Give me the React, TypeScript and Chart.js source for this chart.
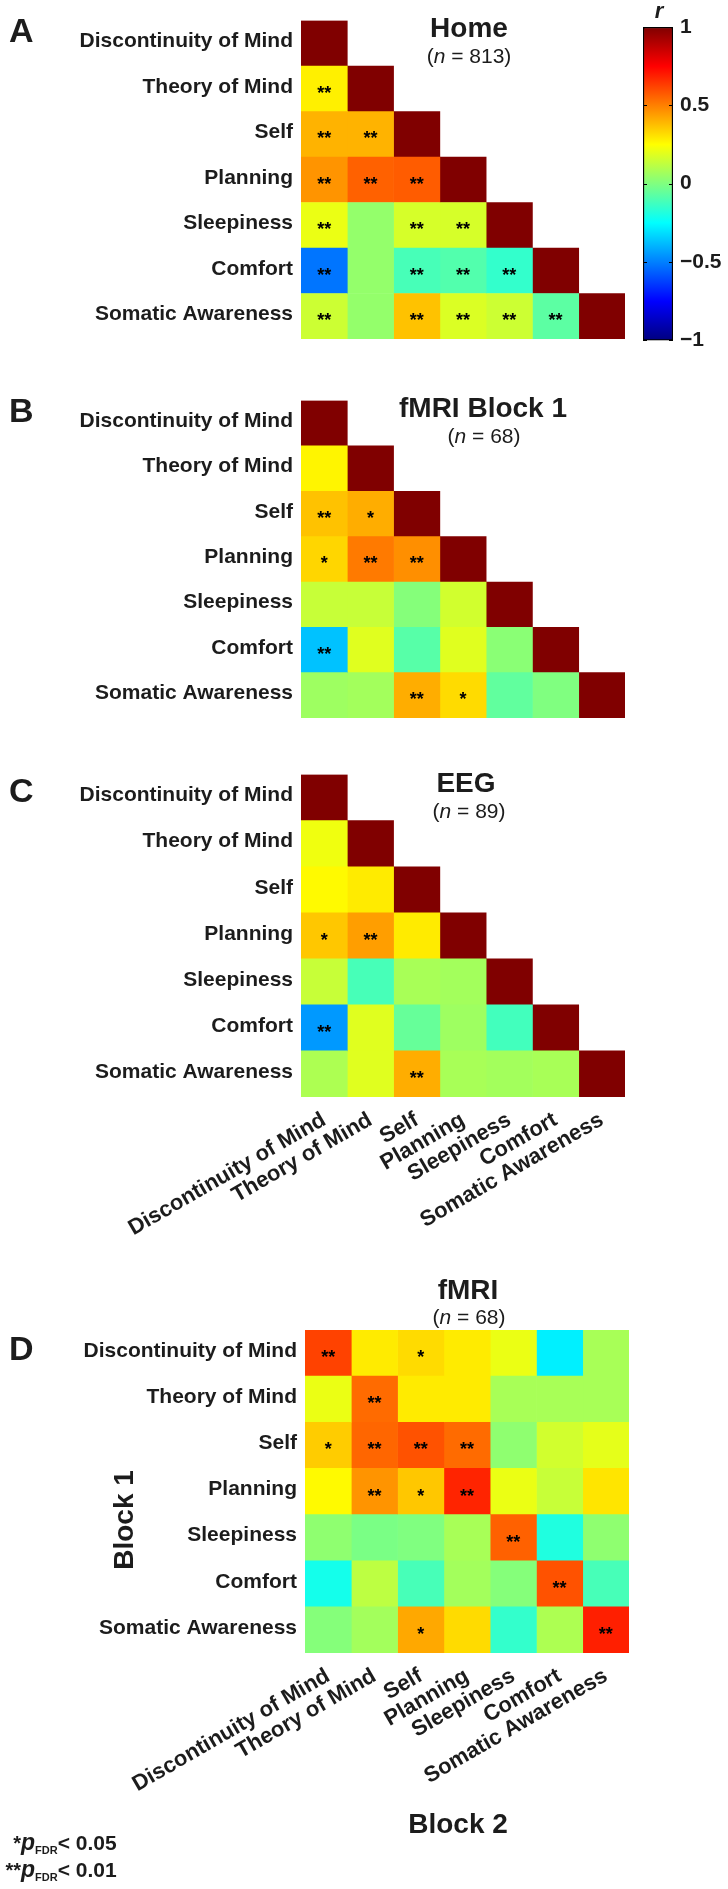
import React, { useEffect, useRef } from 'react';
import { Chart, registerables } from 'chart.js';

Chart.register(...registerables);

// ---------------- DATA ----------------
const VARIABLES = [
  'Discontinuity of Mind',
  'Theory of Mind',
  'Self',
  'Planning',
  'Sleepiness',
  'Comfort',
  'Somatic Awareness',
];

// Panel A: Home (n = 813), lower triangle incl. diagonal
const HOME_R = [
  [1],
  [0.28, 1],
  [0.40, 0.40, 1],
  [0.46, 0.56, 0.57, 1],
  [0.21, 0.04, 0.17, 0.17, 1],
  [-0.52, 0.04, -0.11, -0.09, -0.15, 1],
  [0.15, 0.04, 0.37, 0.18, 0.15, -0.07, 1],
];
const HOME_SIG = [
  [''],
  ['**', ''],
  ['**', '**', ''],
  ['**', '**', '**', ''],
  ['**', '', '**', '**', ''],
  ['**', '', '**', '**', '**', ''],
  ['**', '', '**', '**', '**', '**', ''],
];

// Panel B: fMRI Block 1 (n = 68)
const BLOCK1_R = [
  [1],
  [0.27, 1],
  [0.37, 0.41, 1],
  [0.33, 0.51, 0.47, 1],
  [0.14, 0.14, 0.01, 0.16, 1],
  [-0.37, 0.19, -0.08, 0.19, 0.02, 1],
  [0.06, 0.07, 0.41, 0.32, -0.06, 0.0, 1],
];
const BLOCK1_SIG = [
  [''],
  ['', ''],
  ['**', '*', ''],
  ['*', '**', '**', ''],
  ['', '', '', '', ''],
  ['**', '', '', '', '', ''],
  ['', '', '**', '*', '', '', ''],
];

// Panel C: EEG (n = 89)
const EEG_R = [
  [1],
  [0.22, 1],
  [0.26, 0.29, 1],
  [0.36, 0.44, 0.29, 1],
  [0.14, -0.11, 0.08, 0.07, 1],
  [-0.45, 0.19, -0.05, 0.06, -0.12, 1],
  [0.09, 0.19, 0.41, 0.08, 0.07, 0.08, 1],
];
const EEG_SIG = [
  [''],
  ['', ''],
  ['', '', ''],
  ['*', '**', '', ''],
  ['', '', '', '', ''],
  ['**', '', '', '', '', ''],
  ['', '', '**', '', '', '', ''],
];

// Panel D: fMRI Block 1 (rows) x Block 2 (columns) (n = 68)
const FMRI_R = [
  [0.62, 0.29, 0.32, 0.29, 0.21, -0.28, 0.08],
  [0.21, 0.54, 0.29, 0.29, 0.08, 0.08, 0.08],
  [0.35, 0.55, 0.59, 0.54, 0.03, 0.16, 0.2],
  [0.26, 0.46, 0.36, 0.68, 0.21, 0.14, 0.3],
  [0.03, -0.01, 0.0, 0.08, 0.56, -0.19, 0.03],
  [-0.21, 0.12, -0.11, 0.07, 0.01, 0.59, -0.11],
  [0.01, 0.07, 0.42, 0.32, -0.15, 0.09, 0.69],
];
const FMRI_SIG = [
  ['**', '', '*', '', '', '', ''],
  ['', '**', '', '', '', '', ''],
  ['*', '**', '**', '**', '', '', ''],
  ['', '**', '*', '**', '', '', ''],
  ['', '', '', '', '**', '', ''],
  ['', '', '', '', '', '**', ''],
  ['', '', '*', '', '', '', '**'],
];

const COLORBAR_TICKS = [-1, -0.5, 0, 0.5, 1];

// ---------------- HELPERS ----------------
const FONT = "'Liberation Sans', Arial, Helvetica, sans-serif";
const TEXT_COLOR = '#1c1c1c';

function jet(v: number): string {
  const t = Math.max(0, Math.min(1, (v + 1) / 2));
  const c = (x: number) => Math.round(255 * Math.max(0, Math.min(1, x)));
  const r = c(Math.min(4 * t - 1.5, -4 * t + 4.5));
  const g = c(Math.min(4 * t - 0.5, -4 * t + 3.5));
  const b = c(Math.min(4 * t + 0.5, -4 * t + 2.5));
  return `rgb(${r},${g},${b})`;
}

type Part = { text: string; font: string; dy?: number };
type TextItem = {
  parts: Part[];
  x: number;
  y: number;
  align?: 'left' | 'center' | 'right';
  rotate?: number;
};

function textPlugin(items: TextItem[]) {
  return {
    id: 'panelTexts',
    afterDraw(chart: any) {
      const ctx = chart.ctx as CanvasRenderingContext2D;
      items.forEach((it) => {
        ctx.save();
        ctx.fillStyle = TEXT_COLOR;
        ctx.textBaseline = 'alphabetic';
        ctx.textAlign = 'left';
        const widths = it.parts.map((p) => {
          ctx.font = p.font;
          return ctx.measureText(p.text).width;
        });
        const total = widths.reduce((a, b) => a + b, 0);
        ctx.translate(it.x, it.y);
        if (it.rotate) ctx.rotate(it.rotate);
        let x = it.align === 'center' ? -total / 2 : it.align === 'right' ? -total : 0;
        it.parts.forEach((p, i) => {
          ctx.font = p.font;
          ctx.fillText(p.text, x, p.dy || 0);
          x += widths[i];
        });
        ctx.restore();
      });
    },
  };
}

function starPlugin(sig: string[][]) {
  return {
    id: 'stars',
    afterDatasetsDraw(chart: any) {
      const ctx = chart.ctx as CanvasRenderingContext2D;
      const xs = chart.scales.x;
      const ys = chart.scales.y;
      ctx.save();
      ctx.font = `bold 18px ${FONT}`;
      ctx.textAlign = 'center';
      ctx.textBaseline = 'alphabetic';
      ctx.fillStyle = '#000';
      sig.forEach((row, j) =>
        row.forEach((s, i) => {
          if (!s) return;
          const px = xs.getPixelForValue(i + 0.5);
          const py = ys.getPixelForValue(j);
          ctx.fillText(s, px, py + 10);
        })
      );
      ctx.restore();
    },
  };
}

const bold = (px: number) => `bold ${px}px ${FONT}`;
const normal = (px: number) => `${px}px ${FONT}`;
const italic = (px: number) => `italic ${px}px ${FONT}`;

function nLine(n: number, x: number, y: number): TextItem {
  return {
    parts: [
      { text: '(', font: normal(21) },
      { text: 'n', font: italic(21) },
      { text: ` = ${n})`, font: normal(21) },
    ],
    x,
    y,
    align: 'center',
  };
}

type PanelProps = {
  top: number;
  height: number;
  matrixLeft: number;
  matrixRight: number;
  padTop: number;
  padBottom: number;
  xAxisHeight: number;
  showX: boolean;
  r: number[][];
  sig: string[][];
  texts: TextItem[];
};

function Panel(p: PanelProps) {
  const ref = useRef<HTMLCanvasElement>(null);
  useEffect(() => {
    if (!ref.current) return;
    const has = (j: number, i: number) => p.r[j] && p.r[j][i] !== undefined;
    const datasets = VARIABLES.map((name, i) => ({
      label: name,
      data: VARIABLES.map((_, j) => (has(j, i) ? [i, i + 1] : null)),
      backgroundColor: VARIABLES.map((_, j) => (has(j, i) ? jet(p.r[j][i]) : 'rgba(0,0,0,0)')),
      borderWidth: 0,
      barPercentage: 1,
      categoryPercentage: 1,
      grouped: false,
    }));
    const chart = new Chart(ref.current, {
      type: 'bar',
      data: { labels: VARIABLES, datasets: datasets as any },
      options: {
        indexAxis: 'y',
        animation: false,
        responsive: false,
        maintainAspectRatio: false,
        events: [],
        layout: {
          padding: { left: 0, right: 728 - p.matrixRight, top: p.padTop, bottom: p.padBottom },
        },
        plugins: {
          legend: { display: false },
          tooltip: { enabled: false },
          title: { display: false },
        },
        scales: {
          x: {
            type: 'linear',
            min: 0,
            max: 7,
            display: p.showX,
            grid: { display: false, drawTicks: false },
            border: { display: false },
            afterBuildTicks: (s: any) => {
              s.ticks = VARIABLES.map((_, i) => ({ value: i + 0.5 }));
            },
            afterFit: (s: any) => {
              s.height = p.xAxisHeight;
            },
            ticks: {
              autoSkip: false,
              minRotation: 30,
              maxRotation: 30,
              padding: 10,
              color: TEXT_COLOR,
              font: { family: FONT, size: 22, weight: 'bold' },
              callback: (v: any) => VARIABLES[Math.round(Number(v) - 0.5)],
            },
          },
          y: {
            type: 'category',
            grid: { display: false, drawTicks: false },
            border: { display: false },
            afterFit: (s: any) => {
              s.width = p.matrixLeft;
            },
            ticks: {
              padding: 8,
              labelOffset: -2,
              color: TEXT_COLOR,
              font: { family: FONT, size: 21, weight: 'bold' },
            },
          },
        } as any,
      },
      plugins: [starPlugin(p.sig), textPlugin(p.texts)],
    });
    return () => chart.destroy();
  }, []);
  return (
    <canvas
      ref={ref}
      width={728}
      height={p.height}
      style={{ position: 'absolute', left: 0, top: p.top, width: 728, height: p.height }}
    />
  );
}

function ColorBar() {
  const ref = useRef<HTMLCanvasElement>(null);
  useEffect(() => {
    if (!ref.current) return;
    const innerTicks = {
      id: 'innerTicks',
      afterDatasetsDraw(chart: any) {
        const ctx = chart.ctx as CanvasRenderingContext2D;
        const { left, right, top } = chart.chartArea;
        const ys = chart.scales.y;
        ctx.save();
        ctx.strokeStyle = '#000';
        ctx.lineWidth = 1;
        COLORBAR_TICKS.forEach((v) => {
          const py = Math.round(ys.getPixelForValue(v)) + 0.5;
          ctx.beginPath();
          ctx.moveTo(left, py);
          ctx.lineTo(left + 4, py);
          ctx.moveTo(right - 4, py);
          ctx.lineTo(right, py);
          ctx.stroke();
        });
        ctx.fillStyle = TEXT_COLOR;
        ctx.font = `italic bold 22px ${FONT}`;
        ctx.textAlign = 'center';
        ctx.fillText('r', (left + right) / 2 + 1, top - 9);
        ctx.restore();
      },
    };
    const chart = new Chart(ref.current, {
      type: 'bar',
      data: {
        labels: ['r'],
        datasets: [
          {
            data: [[-1, 1]] as any,
            backgroundColor: (c: any) => {
              const ch = c.chart;
              const area = ch.chartArea;
              if (!area) return 'rgba(0,0,0,0)';
              const g = ch.ctx.createLinearGradient(0, area.bottom, 0, area.top);
              for (let k = 0; k <= 64; k++) g.addColorStop(k / 64, jet(-1 + (2 * k) / 64));
              return g;
            },
            borderColor: '#000',
            borderWidth: 1.5,
            borderSkipped: false,
            barPercentage: 1,
            categoryPercentage: 1,
          },
        ],
      },
      options: {
        animation: false,
        responsive: false,
        maintainAspectRatio: false,
        events: [],
        layout: { padding: { left: 13, right: 0, top: 27, bottom: 17 } },
        plugins: { legend: { display: false }, tooltip: { enabled: false } },
        scales: {
          x: { display: false },
          y: {
            position: 'right',
            min: -1,
            max: 1,
            grid: { display: false, drawTicks: false },
            border: { display: false },
            afterBuildTicks: (s: any) => {
              s.ticks = COLORBAR_TICKS.map((v) => ({ value: v }));
            },
            afterFit: (s: any) => {
              s.width = 55;
            },
            ticks: {
              padding: 7,
              color: TEXT_COLOR,
              font: { family: FONT, size: 21, weight: 'bold' },
              callback: (v: any) => {
                const n = Number(v);
                return (n < 0 ? '\u2212' : '') + String(Math.abs(n));
              },
            },
          },
        } as any,
      },
      plugins: [innerTicks],
    });
    return () => chart.destroy();
  }, []);
  return (
    <canvas
      ref={ref}
      width={98}
      height={360}
      style={{ position: 'absolute', left: 630, top: 0, width: 98, height: 360 }}
    />
  );
}

export default function App() {
  const letter = (t: string, y: number): TextItem => ({
    parts: [{ text: t, font: bold(34) }],
    x: 9,
    y,
    align: 'left',
  });
  return (
    <div
      style={{
        position: 'absolute',
        left: 0,
        top: 0,
        width: 728,
        height: 1889,
        background: '#fff',
        overflow: 'hidden',
      }}
    >
      <Panel
        top={0}
        height={370}
        matrixLeft={301}
        matrixRight={625}
        padTop={15}
        padBottom={31}
        xAxisHeight={0}
        showX={false}
        r={HOME_R}
        sig={HOME_SIG}
        texts={[
          letter('A', 42),
          { parts: [{ text: 'Home', font: bold(28) }], x: 469, y: 37, align: 'center' },
          nLine(813, 469, 63),
        ]}
      />
      <Panel
        top={380}
        height={370}
        matrixLeft={301}
        matrixRight={625}
        padTop={14}
        padBottom={32}
        xAxisHeight={0}
        showX={false}
        r={BLOCK1_R}
        sig={BLOCK1_SIG}
        texts={[
          letter('B', 42),
          { parts: [{ text: 'fMRI Block 1', font: bold(28) }], x: 483, y: 37, align: 'center' },
          nLine(68, 484, 63),
        ]}
      />
      <Panel
        top={754}
        height={510}
        matrixLeft={301}
        matrixRight={625}
        padTop={19}
        padBottom={0}
        xAxisHeight={167}
        showX={true}
        r={EEG_R}
        sig={EEG_SIG}
        texts={[
          letter('C', 48),
          { parts: [{ text: 'EEG', font: bold(28) }], x: 466, y: 38, align: 'center' },
          nLine(89, 469, 64),
        ]}
      />
      <Panel
        top={1270}
        height={619}
        matrixLeft={305}
        matrixRight={629}
        padTop={60}
        padBottom={0}
        xAxisHeight={236}
        showX={true}
        r={FMRI_R}
        sig={FMRI_SIG}
        texts={[
          letter('D', 90),
          { parts: [{ text: 'fMRI', font: bold(28) }], x: 468, y: 29, align: 'center' },
          nLine(68, 469, 54),
          {
            parts: [{ text: 'Block 1', font: bold(28) }],
            x: 133,
            y: 250,
            align: 'center',
            rotate: -Math.PI / 2,
          },
          { parts: [{ text: 'Block 2', font: bold(28) }], x: 458, y: 563, align: 'center' },
          { parts: [{ text: '*', font: bold(20) }], x: 21, y: 580, align: 'right' },
          {
            parts: [
              { text: 'p', font: `italic bold 23px ${FONT}` },
              { text: 'FDR', font: bold(11), dy: 4 },
              { text: '< 0.05', font: bold(21) },
            ],
            x: 21,
            y: 580,
            align: 'left',
          },
          { parts: [{ text: '**', font: bold(20) }], x: 21, y: 607, align: 'right' },
          {
            parts: [
              { text: 'p', font: `italic bold 23px ${FONT}` },
              { text: 'FDR', font: bold(11), dy: 4 },
              { text: '< 0.01', font: bold(21) },
            ],
            x: 21,
            y: 607,
            align: 'left',
          },
        ]}
      />
      <ColorBar />
    </div>
  );
}
